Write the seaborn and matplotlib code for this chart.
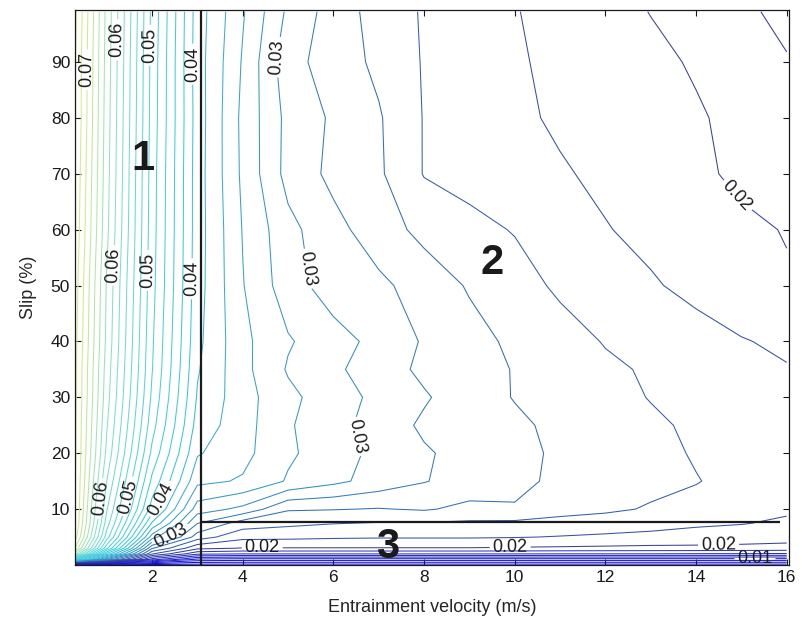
import numpy as np
import matplotlib
matplotlib.use("Agg")
import matplotlib.pyplot as plt
import seaborn as sns

# ---- data (friction coefficient) ----
velocity = [0.3, 1, 2, 3, 4, 5, 6, 7, 8, 9, 10, 11, 12, 13, 14, 15, 16]
slip = [0, 1, 2, 3, 5, 7.5, 10, 15, 20, 25, 30, 35, 40, 50, 60, 70, 80, 90, 99]

# one column of friction values (along slip) per entrainment velocity
mu_v0_3 = [.003, .045, .0625, .068, .071, .0721, .0722, .0723, .0724, .0724, .0725, .0725, .0727, .073, .0735, .0738, .0742, .0742, .0745]
mu_v1 = [.003, .0302, .0415, .0485, .053, .055, .0562, .058, .0595, .0602, .0608, .0611, .0615, .0618, .0625, .0628, .0630, .0632, .0634]
mu_v2 = [.003, .015, .0222, .0262, .033, .0378, .041, .0435, .0455, .0468, .0476, .0481, .0483, .0487, .0489, .0490, .0492, .0493, .0495]
mu_v3 = [.003, .0095, .0165, .0205, .025, .0281, .031, .0345, .0362, .0372, .0378, .0382, .0385, .0388, .0389, .0389, .0390, .0389, .0390]
mu_v4 = [.003, .0091, .0161, .0199, .0226, .0251, .0295, .0338, .0346, .0348, .0348, .0346, .0345, .0341, .0339, .0336, .0335, .0338, .0342]
mu_v5 = [.003, .0091, .0161, .0199, .0225, .0245, .0262, .0318, .0323, .0322, .0325, .0318, .0322, .0309, .0306, .0293, .0294, .0287, .0296]
mu_v6 = [.003, .0091, .0161, .0199, .0223, .0241, .0261, .0305, .031, .0308, .0309, .0304, .0308, .029, .0286, .0275, .0277, .0271, .0271]
mu_v7 = [.003, .0091, .0161, .0199, .0222, .0239, .0259, .0292, .0294, .029, .0295, .0289, .0294, .0284, .0270, .0263, .0262, .02555, .0252]
mu_v8 = [.003, .0091, .0161, .0199, .0222, .0239, .0262, .0281, .0282, .0277, .0282, .0276, .0278, .0272, .0254, .0239, .0239, .02385, .0238]
mu_v9 = [.003, .0091, .0161, .0199, .0222, .0237, .0255, .0272, .0274, .0272, .0270, .0268, .0267, .0258, .0245, .0234, .0231, .0230, .0229]
mu_v10 = [.003, .0091, .0161, .0198, .0221, .0236, .0258, .0266, .0267, .0264, .0259, .0259, .0256, .0247, .0239, .0228, .0224, .0222, .0221]
mu_v11 = [.003, .0091, .0160, .0197, .0219, .0233, .0248, .0255, .0256, .0255, .0252, .0251, .0247, .0237, .0231, .0222, .0217, .0216, .0213]
mu_v12 = [.003, .0091, .0160, .0196, .0217, .0230, .0244, .0251, .0252, .0250, .0248, .0243, .0239, .0229, .0221, .0216, .0212, .0210, .0207]
mu_v13 = [.003, .0091, .0160, .0195, .0215, .0227, .0238, .0246, .0247, .0244, .0239, .0238, .0233, .0222, .0215, .0210, .0207, .02045, .01995]
mu_v14 = [.003, .0091, .0159, .0195, .0213, .0223, .0233, .0241, .0238, .0236, .0234, .0232, .0227, .0215, .0210, .0204, .0202, .0198, .0191]
mu_v15 = [.003, .0091, .0159, .0194, .0211, .0221, .0228, .0233, .0233, .0231, .0229, .0226, .0221, .0209, .0204, .0196, .0195, .0189, .0183]
mu_v16 = [.003, .0091, .0158, .0193, .0208, .0217, .0223, .0227, .0228, .0226, .0224, .0221, .0217, .0202, .0199, .0188, .0188, .0181, .0176]

level_step = 0.002
label_levels = [0.01, 0.02, 0.03, 0.04, 0.05, 0.06, 0.07]
label_positions = [
    (0.52, 88.6), (1.25, 94), (1.91, 93), (2.73, 89.6), (4.65, 91),
    (1.12, 53.6), (1.85, 52.7), (2.84, 51.2), (5.2, 52.7), (6.3, 22.5),
    (14.9, 66), (0.79, 12), (1.3, 12.6), (2.18, 11.8), (2.5, 4.3),
    (4.43, 3.0), (9.9, 3.0), (14.5, 3.0), (15.3, 1.1),
]
region_names = ["1", "2", "3"]
region_x = [1.8, 9.5, 7.2]
region_y = [72.7, 54, 3.2]
boundary_velocity = 3.08
boundary_slip = 7.7
boundary_slip_end = 15.85

# ---- style ----
sns.set_theme(style="ticks", rc={"xtick.direction": "in", "ytick.direction": "in"})
plt.rcParams["font.family"] = ["Liberation Sans", "DejaVu Sans"]

columns = [mu_v0_3, mu_v1, mu_v2, mu_v3, mu_v4, mu_v5, mu_v6, mu_v7, mu_v8,
           mu_v9, mu_v10, mu_v11, mu_v12, mu_v13, mu_v14, mu_v15, mu_v16]
Z = np.column_stack([np.asarray(c) for c in columns])
X, Y = np.meshgrid(velocity, slip)

all_levels = [i / 500 for i in range(2, 39)]
lab_levels = [lv for lv in all_levels if any(abs(lv - l) < 1e-9 for l in label_levels)]
plain_levels = [lv for lv in all_levels if lv not in lab_levels]

cmap = sns.blend_palette(
    [(0.0, 0.0, 0.78), (0.12, 0.12, 0.82), (0.22, 0.25, 0.62), (0.20, 0.55, 0.75),
     (0.22, 0.78, 0.86), (0.32, 0.83, 0.88), (0.52, 0.88, 0.78), (0.80, 0.92, 0.55),
     (0.93, 0.94, 0.45)], as_cmap=True)

fig = plt.figure(figsize=(8.04, 6.29), dpi=100)
ax = fig.add_axes([75 / 804, 64 / 629, 714 / 804, 555 / 629])

ax.contour(X, Y, Z, levels=plain_levels, cmap=cmap, vmin=0.0, vmax=0.08, linewidths=0.75)
cs_lab = ax.contour(X, Y, Z, levels=lab_levels, cmap=cmap, vmin=0.0, vmax=0.08, linewidths=0.75)
ax.clabel(cs_lab, fmt="%.2f", colors="k", fontsize=13,
          inline=True, inline_spacing=3, manual=label_positions)

ax.axvline(boundary_velocity, color="k", lw=1.6)
ax.hlines(boundary_slip, boundary_velocity, boundary_slip_end, color="k", lw=1.6)

for name, rx, ry in zip(region_names, region_x, region_y):
    ax.text(rx, ry, name, fontsize=30, fontweight="bold", ha="center", va="center", color="k")

ax.set_xlim(0.3, 16.05)
ax.set_ylim(0, 99.3)
ax.set_xticks([2, 4, 6, 8, 10, 12, 14, 16])
ax.set_yticks([10, 20, 30, 40, 50, 60, 70, 80, 90])
ax.tick_params(top=True, right=True, labelsize=12.5, length=4, width=0.8, colors="k")
for s in ax.spines.values():
    s.set_color("k")
    s.set_linewidth(0.9)
ax.set_xlabel("Entrainment velocity (m/s)", fontsize=13, labelpad=10)
ax.set_ylabel("Slip (%)", fontsize=13, labelpad=10)

fig.savefig("out.png", dpi=100)
